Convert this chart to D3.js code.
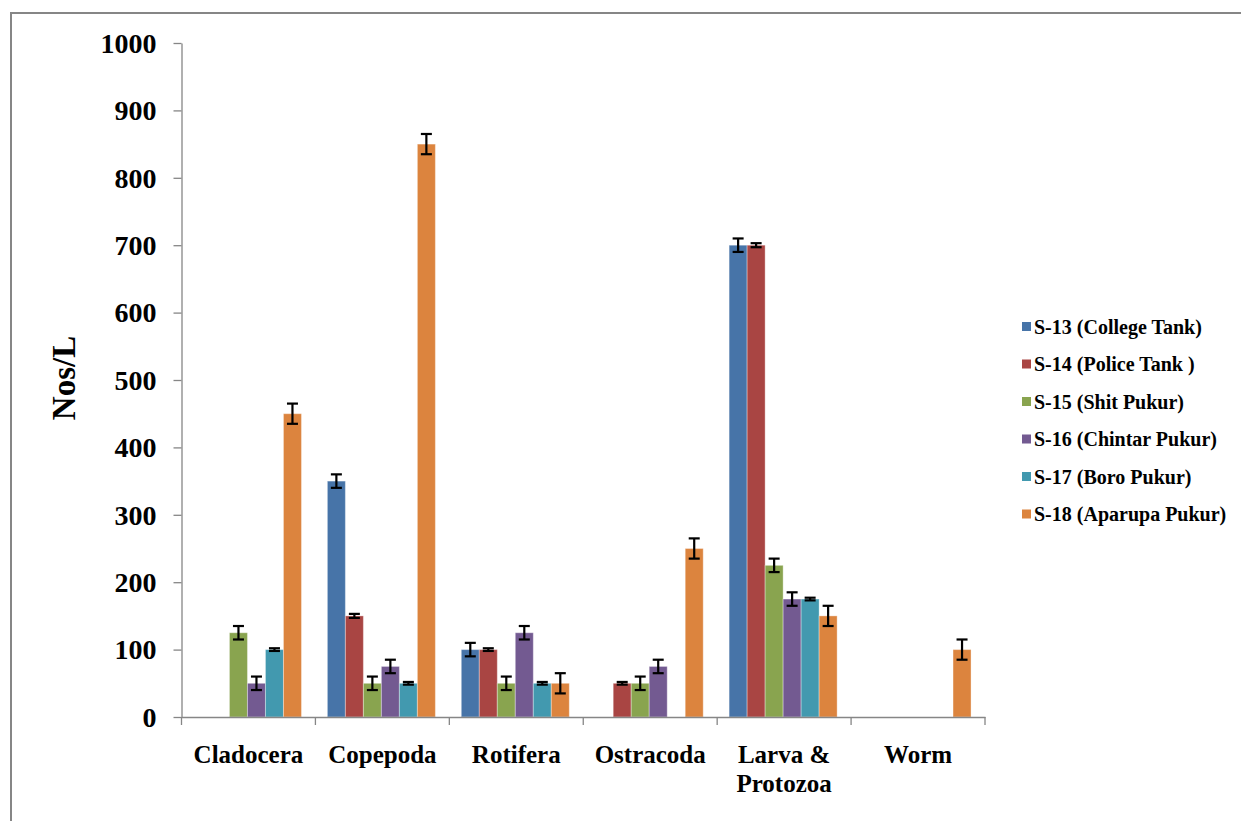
<!DOCTYPE html>
<html><head><meta charset="utf-8">
<script src="https://cdn.jsdelivr.net/npm/d3@7"></script>
<style>body{margin:0;background:#fff}svg{display:block}</style>
</head><body><svg id="c" width="1241" height="821"></svg>
<script>
const categories = ["Cladocera","Copepoda","Rotifera","Ostracoda","Larva & Protozoa","Worm"];
const seriesNames = ["S-13 (College Tank)","S-14 (Police Tank )","S-15 (Shit Pukur)","S-16 (Chintar Pukur)","S-17 (Boro Pukur)","S-18 (Aparupa Pukur)"];
const colors = ["#4774A8","#A94543","#89A44F","#735A91","#4299AF","#DC843E"];
// values per series, in category order
const s13 = [0,350,100,0,700,0];
const s14 = [0,150,100,50,700,0];
const s15 = [125,50,50,50,225,0];
const s16 = [50,75,125,75,175,0];
const s17 = [100,50,50,0,175,0];
const s18 = [450,850,50,250,150,100];
// error (± half-range) per series
const e13 = [0,10,10,0,10,0];
const e14 = [0,3,2,2,3,0];
const e15 = [10,10,10,10,10,0];
const e16 = [10,10,10,10,10,0];
const e17 = [2,2,2,0,2,0];
const e18 = [15,15,15,15,15,15];
const yTicks = [0,100,200,300,400,500,600,700,800,900,1000];

const values = [s13,s14,s15,s16,s17,s18];
const errors = [e13,e14,e15,e16,e17,e18];
const FONT = '"Liberation Serif", "Times New Roman", Times, serif';

const svg = d3.select("#c");
// outer frame
svg.append("rect").attr("x",11).attr("y",13).attr("width",1241).attr("height",830)
  .attr("fill","none").attr("stroke","#868686").attr("stroke-width",2);

const X0 = 181.5, X1 = 985, Y0 = 717, Y1 = 43;
const x = d3.scaleBand().domain(categories).range([X0,X1]).padding(0);
const xs = d3.scaleBand().domain(seriesNames).range([0,x.bandwidth()]).paddingInner(0).paddingOuter(0.72);
const y = d3.scaleLinear().domain([0,1000]).range([Y0,Y1]);

// bars
seriesNames.forEach((s,i)=>{
  const g = svg.append("g");
  categories.forEach((c,j)=>{
    const v = values[i][j];
    if (v<=0) return;
    g.append("rect").attr("x",x(c)+xs(s)-1).attr("y",y(v)).attr("width",xs.bandwidth())
      .attr("height",Y0-y(v)).attr("fill",colors[i]).attr("stroke","rgba(255,255,255,0.35)").attr("stroke-width",1);
  });
});
// error bars
seriesNames.forEach((s,i)=>{
  categories.forEach((c,j)=>{
    const v = values[i][j], e = errors[i][j];
    if (v<=0) return;
    const cx = x(c)+xs(s)-1+xs.bandwidth()/2;
    const g = svg.append("g").attr("stroke","#000").attr("stroke-width",2.2);
    g.append("line").attr("x1",cx).attr("x2",cx).attr("y1",y(v+e)).attr("y2",y(v-e));
    [v+e,v-e].forEach(t=>g.append("line").attr("x1",cx-5.5).attr("x2",cx+5.5).attr("y1",y(t)).attr("y2",y(t)));
  });
});

// axes
const yAxis = d3.axisLeft(y).tickValues(yTicks).tickFormat(d3.format("d")).tickSize(8).tickSizeOuter(0).tickPadding(17);
const ga = svg.append("g").attr("transform",`translate(${X0},0)`).call(yAxis);
ga.select(".domain").attr("stroke","#868686").attr("stroke-width",1.3);
ga.selectAll(".tick line").attr("stroke","#868686").attr("stroke-width",1.3);
ga.selectAll(".tick text").style("font-family",FONT).style("font-weight","bold").style("font-size","28px").attr("fill","#000").attr("dy","0.33em");

const xAxis = d3.axisBottom(x).tickSize(8).tickSizeOuter(0).tickFormat("");
const gx = svg.append("g").attr("transform",`translate(0,${Y0})`).call(xAxis);
gx.select(".domain").attr("stroke","#868686").attr("stroke-width",1.3);
gx.selectAll(".tick").remove();
const edges = categories.map(c=>x(c)).concat([X1]);
edges.forEach(ex=>gx.append("line").attr("x1",ex).attr("x2",ex).attr("y1",0).attr("y2",8).attr("stroke","#868686").attr("stroke-width",1.3));

categories.forEach(c=>{
  const cx = x(c)+x.bandwidth()/2;
  const parts = c==="Larva & Protozoa" ? ["Larva &","Protozoa"] : [c];
  const t = svg.append("text").attr("x",cx).attr("y",763).attr("text-anchor","middle")
    .style("font-family",FONT).style("font-weight","bold").style("font-size","25px").attr("fill","#000");
  parts.forEach((p,k)=>t.append("tspan").attr("x",cx).attr("dy",k?29:0).text(p));
});

// y title
svg.append("text").attr("transform","translate(75,378) rotate(-90)").attr("text-anchor","middle")
  .style("font-family",FONT).style("font-weight","bold").style("font-size","33px").attr("fill","#000").text("Nos/L");

// legend
const lg = svg.append("g");
seriesNames.forEach((s,i)=>{
  const cy = 326.5 + i*37.5;
  lg.append("rect").attr("x",1022).attr("y",cy-4.5).attr("width",9).attr("height",9).attr("fill",colors[i]);
  lg.append("text").attr("x",1034).attr("y",cy+7)
    .style("font-family",FONT).style("font-weight","bold").style("font-size","20px").attr("fill","#000").text(s);
});
</script></body></html>
